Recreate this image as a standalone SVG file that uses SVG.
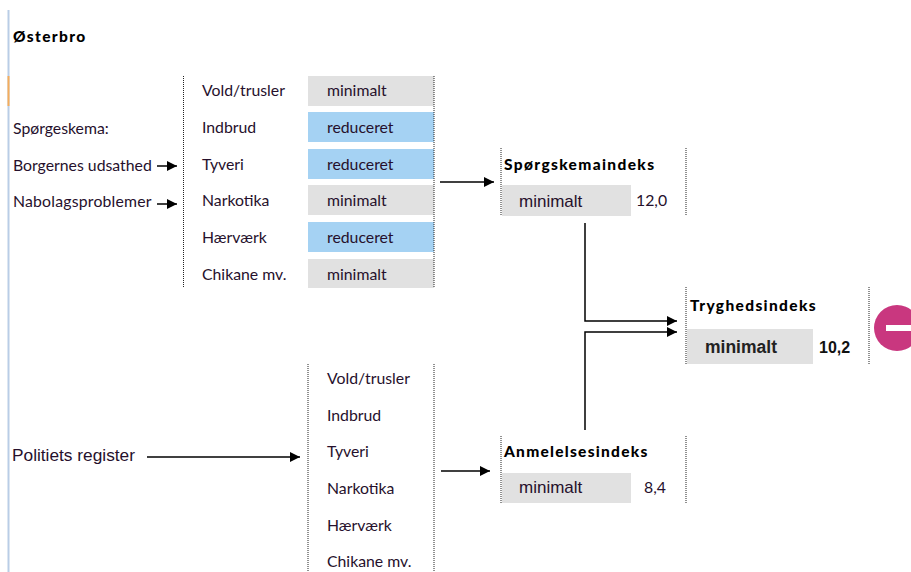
<svg xmlns="http://www.w3.org/2000/svg" width="911" height="572" viewBox="0 0 911 572">
<defs>
<marker id="ah" markerUnits="userSpaceOnUse" markerWidth="11" markerHeight="10" refX="10" refY="5" orient="auto"><path d="M0 0L10 5L0 10Z" fill="#000"/></marker>
</defs>
<style>
text{font-family:Lato,"Open Sans",sans-serif;font-size:15.8px;fill:#26102c}
.b{font-size:15.500px;font-weight:900;fill:#000;letter-spacing:1.35px}
.a{font-family:"Liberation Sans",Arial,sans-serif;font-size:17px}
.g{fill:#e1e1e1}.u{fill:#a5d2f3}
.d{stroke:#222;stroke-width:1;stroke-dasharray:1 1;fill:none}
.c{stroke:#000;stroke-width:1.5;fill:none}
.m{marker-end:url(#ah)}
</style>
<rect width="911" height="572" fill="#fff"/>
<g id="sidebar"><rect x="7.500" y="10" width="2" height="562" fill="#b9cde6"/><rect x="7.500" y="76" width="2" height="30" fill="#f5ad5c"/></g>
<g id="labels">
<text x="13" y="42" class="b">Østerbro</text>
<text x="13" y="134">Spørgeskema:</text>
<text x="13" y="171">Borgernes udsathed</text>
<text x="13" y="207" style="letter-spacing:.2px">Nabolagsproblemer</text>
<text x="12" y="461" class="a" style="font-size:17.300px">Politiets register</text>
</g>
<g id="survey-table">
<rect class="g" x="308" y="76" width="126" height="30"/><rect class="u" x="308" y="112" width="126" height="30"/><rect class="u" x="308" y="149" width="126" height="30"/><rect class="g" x="308" y="185" width="126" height="30"/><rect class="u" x="308" y="222" width="126" height="30"/><rect class="g" x="308" y="259" width="126" height="29"/>
<path class="d" d="M183.500 76V288M434 76V288"/>
<text x="202" y="96">Vold/trusler</text><text x="202" y="133">Indbrud</text><text x="202" y="170">Tyveri</text><text x="202" y="206">Narkotika</text><text x="202" y="243">Hærværk</text><text x="202" y="280">Chikane mv.</text>
<text x="327" y="96">minimalt</text><text x="327" y="133">reduceret</text><text x="327" y="170">reduceret</text><text x="327" y="206">minimalt</text><text x="327" y="243">reduceret</text><text x="327" y="280">minimalt</text>
</g>
<g id="register-table">
<path class="d" d="M308 364V572M434 364V572"/>
<text x="327" y="384">Vold/trusler</text><text x="327" y="421">Indbrud</text><text x="327" y="457">Tyveri</text><text x="327" y="494">Narkotika</text><text x="327" y="531">Hærværk</text><text x="327" y="567">Chikane mv.</text>
</g>
<g id="spoergeskemaindeks">
<rect class="g" x="502" y="185" width="129" height="31"/>
<path class="d" d="M501 148V216M686 148V216"/>
<text x="504" y="170" class="b">Spørgskemaindeks</text>
<text x="519" y="207" class="a">minimalt</text>
<text x="636" y="206">12,0</text>
</g>
<g id="anmelelsesindeks">
<rect class="g" x="502" y="473" width="129" height="30"/>
<path class="d" d="M501 436V503M686 436V503"/>
<text x="504" y="457" class="b" style="letter-spacing:1.25px">Anmelelsesindeks</text>
<text x="519" y="493" class="a">minimalt</text>
<text x="644" y="493">8,4</text>
</g>
<g id="tryghedsindeks">
<rect class="g" x="687" y="329" width="126" height="35"/>
<path class="d" d="M686 287V364M869 287V364"/>
<text x="690" y="311" class="b">Tryghedsindeks</text>
<text x="705" y="353" class="a" style="font-size:17.500px;font-weight:700;fill:#222">minimalt</text>
<text x="819" y="353" class="a" style="font-size:16px;font-weight:700;fill:#111">10,2</text>
</g>
<g id="minus-icon"><circle cx="897" cy="328" r="23" fill="#c9377f"/><rect x="886" y="325" width="25" height="6" fill="#fff"/></g>
<g id="connectors">
<path class="c m" d="M157 166H177"/>
<path class="c m" d="M157 204H177"/>
<path class="c m" d="M440 182H494"/>
<path class="c m" d="M147 457H300"/>
<path class="c m" d="M441 471H490"/>
<path class="c m" d="M585 223V321H677"/>
<path class="c m" d="M585 430V332H677"/>
</g>
</svg>
